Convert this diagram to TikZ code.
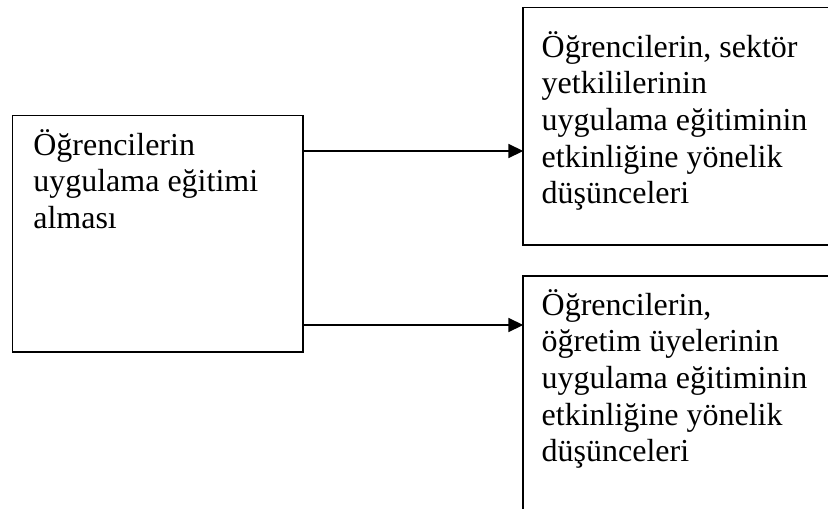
\documentclass[tikz,border=0pt]{standalone}
\usepackage{fontspec}
\setmainfont{Liberation Serif}
\usetikzlibrary{arrows.meta}
\begin{document}
\begin{tikzpicture}[x=1pt,y=-1pt,
  box/.style={draw, line width=1.7pt, rectangle, inner sep=0pt, outer sep=0pt, anchor=north west},
  txt/.style={anchor=base west, inner sep=0pt, outer sep=0pt, font=\fontsize{32}{36.7}\selectfont},
  arr/.style={line width=1.7pt, -{Triangle[length=15pt,width=14pt]}, shorten >=0pt}]
\path[use as bounding box, clip] (0,0) rectangle (828,509);
\fill[white] (0,0) rectangle (828,509);
% boxes
\node[box, minimum width=290.8pt, minimum height=236.8pt] (L) at (12.5,115.5) {};
\node[box, minimum width=330pt, minimum height=237.5pt] (T) at (523.3,7.5) {};
\node[box, minimum width=330pt, minimum height=260pt] (B) at (523.3,275.7) {};
% texts
\node[txt] (tL) at (33.3,155) {\begin{tabular}[t]{@{}l@{}}Öğrencilerin\\uygulama eğitimi\\alması\end{tabular}};
\node[txt] (tT) at (541.7,57) {\begin{tabular}[t]{@{}l@{}}Öğrencilerin, sektör\\yetkililerinin\\uygulama eğitiminin\\etkinliğine yönelik\\düşünceleri\end{tabular}};
\node[txt] (tB) at (541.7,315) {\begin{tabular}[t]{@{}l@{}}Öğrencilerin,\\öğretim üyelerinin\\uygulama eğitiminin\\etkinliğine yönelik\\düşünceleri\end{tabular}};
% connectors
\coordinate (a1) at (303,151);
\coordinate (a2) at (303,325);
\draw[arr] (L.east |- a1) -- (T.west |- a1);
\draw[arr] (L.east |- a2) -- (B.west |- a2);
\end{tikzpicture}
\end{document}
